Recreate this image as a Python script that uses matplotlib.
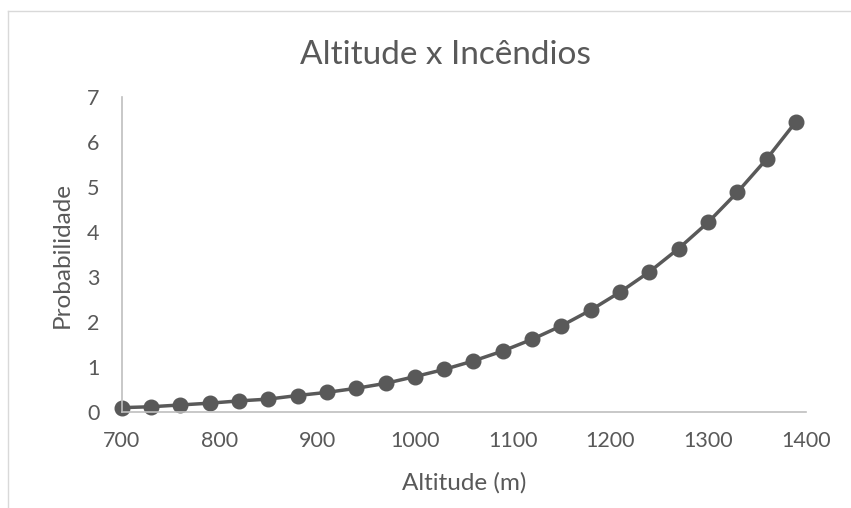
import matplotlib
matplotlib.use("Agg")
import matplotlib.pyplot as plt
from matplotlib.lines import Line2D

# Dados
altitude = [700, 730, 760, 790, 820, 850, 880, 910, 940, 970, 1000, 1030,
            1060, 1090, 1120, 1150, 1180, 1210, 1240, 1270, 1300, 1330, 1360, 1390]
probabilidade = [0.09, 0.11, 0.15, 0.19, 0.24, 0.28, 0.36, 0.43, 0.52, 0.63, 0.78, 0.94,
                 1.13, 1.35, 1.61, 1.91, 2.26, 2.66, 3.11, 3.63, 4.21, 4.88, 5.62, 6.45]
xticks = [700, 800, 900, 1000, 1100, 1200, 1300, 1400]
yticks = [0, 1, 2, 3, 4, 5, 6, 7]

cinza = '#595959'
plt.rcParams['font.family'] = ['Lato', 'DejaVu Sans']

W, H = 851, 508
fig = plt.figure(figsize=(W / 100, H / 100), dpi=100)
ax = fig.add_axes([121.7 / W, 1 - 411.7 / H, 684 / W, 314.7 / H])

ax.plot(altitude, probabilidade, color=cinza, linewidth=2.5, clip_on=False,
        marker='o', markersize=10.5, markerfacecolor=cinza, markeredgecolor=cinza)

ax.set_xlim(700, 1400)
ax.set_ylim(0, 7)
ax.set_xticks(xticks)
ax.set_yticks(yticks)
ax.tick_params(length=0, labelsize=15.5, labelcolor=cinza)
ax.tick_params(axis='x', pad=14)
ax.tick_params(axis='y', pad=16)

for lado in ['top', 'right']:
    ax.spines[lado].set_visible(False)
for lado in ['left', 'bottom']:
    ax.spines[lado].set_color('#BFBFBF')
    ax.spines[lado].set_linewidth(1.2)

# títulos
fig.text(445.5 / W, 1 - 64 / H, 'Altitude x Incêndios', fontsize=24,
         color=cinza, ha='center', va='baseline')
fig.text(463.7 / W, 1 - 490 / H, 'Altitude (m)', fontsize=17.5,
         color=cinza, ha='center', va='baseline')
fig.text(62.5 / W, 1 - 254.5 / H, 'Probabilidade', fontsize=17.5,
         color=cinza, ha='center', va='center', rotation=90)

# borda do gráfico (parcial, como no original)
fig.add_artist(Line2D([7.5 / W, 7.5 / W], [0, 1 - 11 / H],
                      transform=fig.transFigure, color='#D9D9D9', linewidth=1))
fig.add_artist(Line2D([7.5 / W, 1], [1 - 11 / H, 1 - 11 / H],
                      transform=fig.transFigure, color='#D9D9D9', linewidth=1))

fig.savefig('out.png', dpi=100)
